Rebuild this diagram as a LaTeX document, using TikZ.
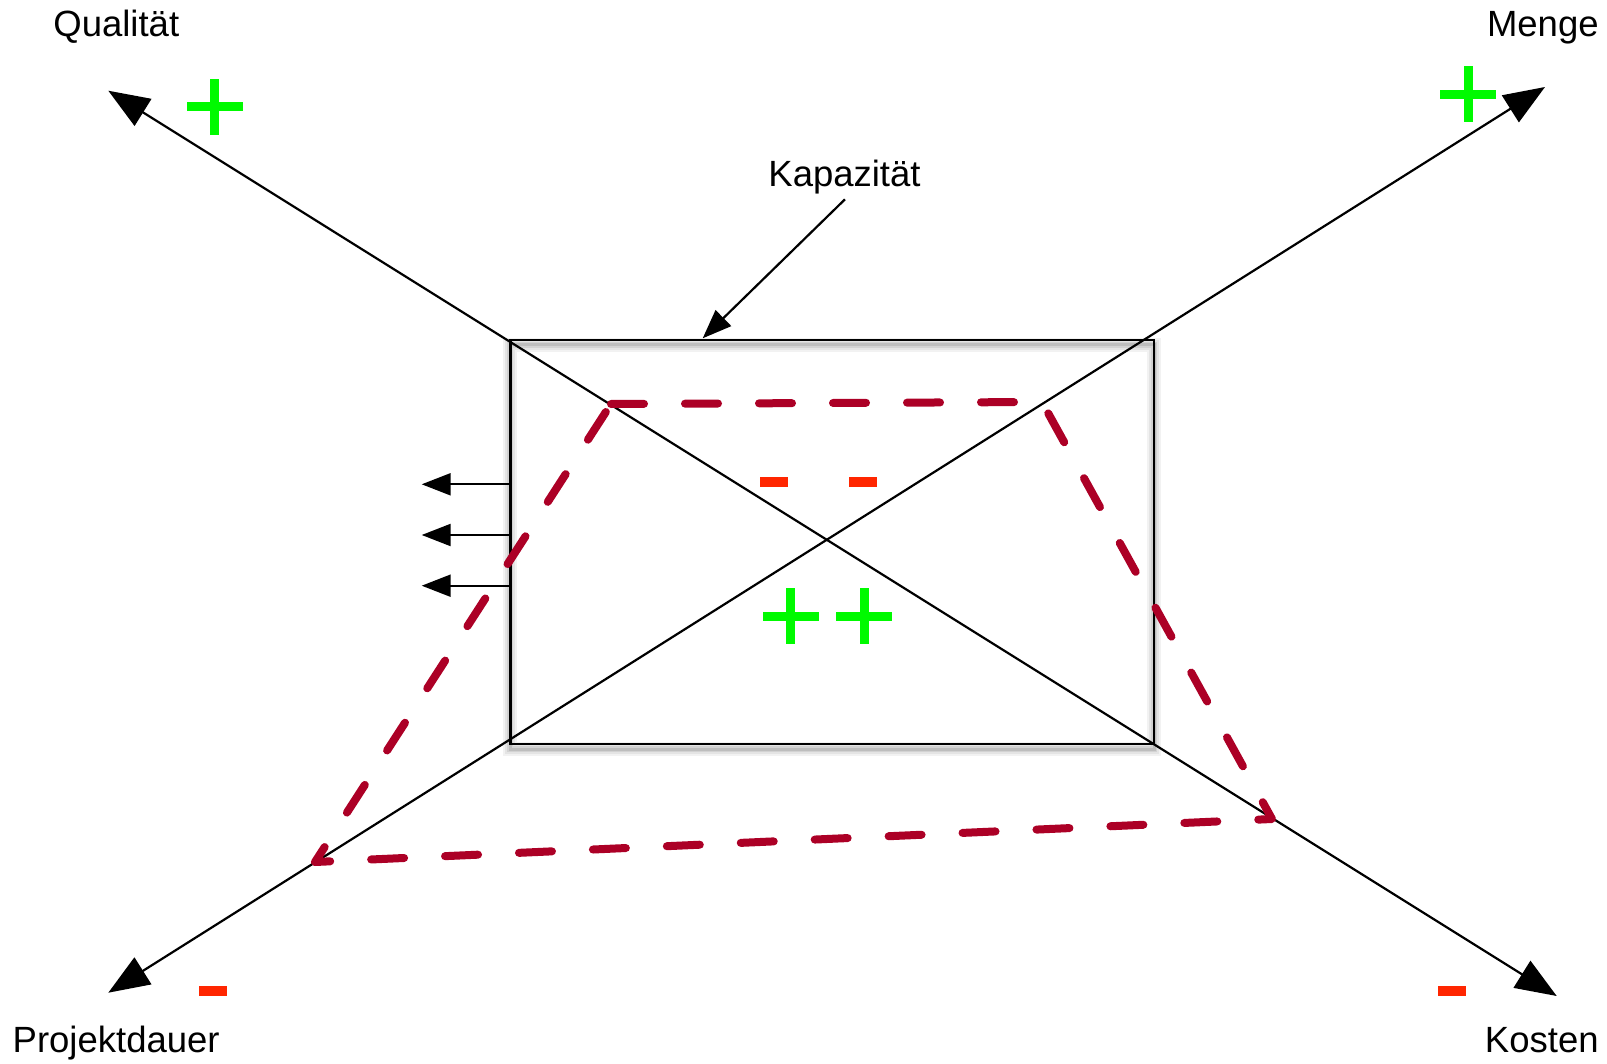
\documentclass[tikz,border=0pt]{standalone}
\usepackage{fontspec}
\setmainfont{Liberation Sans}
\usetikzlibrary{arrows.meta}
\definecolor{plusgreen}{RGB}{0,250,0}
\definecolor{minusred}{RGB}{255,38,0}
\definecolor{dashred}{RGB}{172,0,38}
\begin{document}
\begin{tikzpicture}[x=0.5pt,y=-0.5pt,
  lbl/.style={inner sep=0pt, font=\fontsize{18.25}{22}\selectfont},
  axis/.style={line width=1.1pt, {Triangle[length=20.5pt,width=15.75pt]}-{Triangle[length=20.5pt,width=15.75pt]}},
  ptr/.style={line width=1.1pt, -{Triangle[length=14.5pt,width=11pt]}},
  boxstyle/.style={draw, line width=1.1pt, inner sep=0pt, minimum width=321.8pt, minimum height=201.9pt},
  dashpoly/.style={draw=dashred, line width=4pt, line cap=round, line join=round, dash pattern=on 16.5pt off 20.5pt},
  plus/.pic={\fill[plusgreen] (-28,-4.5) rectangle (28,4.5); \fill[plusgreen] (-4.5,-28) rectangle (4.5,28);},
  minus/.pic={\fill[minusred] (-14,-4.8) rectangle (14,4.8);}
]
\useasboundingbox (0,0) rectangle (1607,1064);

% labels
\node[lbl, anchor=base west] (qual) at (53,36.5) {Qualität};
\node[lbl, anchor=base east] (menge) at (1599,36.5) {Menge};
\node[lbl, anchor=base west] (proj) at (12.3,1052.5) {Projektdauer};
\node[lbl, anchor=base east] (kost) at (1599,1052.5) {Kosten};
\node[lbl, anchor=base] (kap) at (844.5,186.7) {Kapazität};

% soft shadow of the box outline
\foreach \w/\o in {14/0.05, 10/0.06, 6/0.08, 3/0.10}
  \draw[black, opacity=\o, line width=\w*0.5pt] (510.4,345) rectangle (1154,749);

% the box
\node[boxstyle] (box) at (832.2,542.2) {};

% axes
\coordinate (qtip) at (108.3,90.7);
\coordinate (ktip) at (1556.7,996);
\coordinate (mtip) at (1545,87);
\coordinate (ptip) at (108.3,992.7);
\draw[axis] (qtip) -- (ktip);
\draw[axis] (ptip) -- (mtip);

% Kapazität pointer
\coordinate (kapstart) at (845,199.3);
\coordinate (kaptip) at (702.7,338.3);
\draw[ptr] (kapstart) -- (kaptip);

% small left arrows
\coordinate (a1) at (421.7,484.3);
\coordinate (a2) at (421.7,535);
\coordinate (a3) at (421.7,585.7);
\draw[ptr] (box.west |- a1) -- (a1);
\draw[ptr] (box.west |- a2) -- (a2);
\draw[ptr] (box.west |- a3) -- (a3);

% dashed polygon
\coordinate (d1) at (611,404);
\coordinate (d2) at (1042,402);
\coordinate (d3) at (1272,819);
\coordinate (d4) at (315,862);
\draw[dashpoly] (d1) -- (d2) -- (d3) -- (d4) -- cycle;

% plus and minus signs
\pic at (214.5,106.8) {plus};
\pic at (1468,94.5) {plus};
\pic at (790.5,616.3) {plus};
\pic at (864.2,616.3) {plus};
\pic at (774,481.8) {minus};
\pic at (863,481.8) {minus};
\pic at (213,990.7) {minus};
\pic at (1451.8,990.7) {minus};
\end{tikzpicture}
\end{document}
